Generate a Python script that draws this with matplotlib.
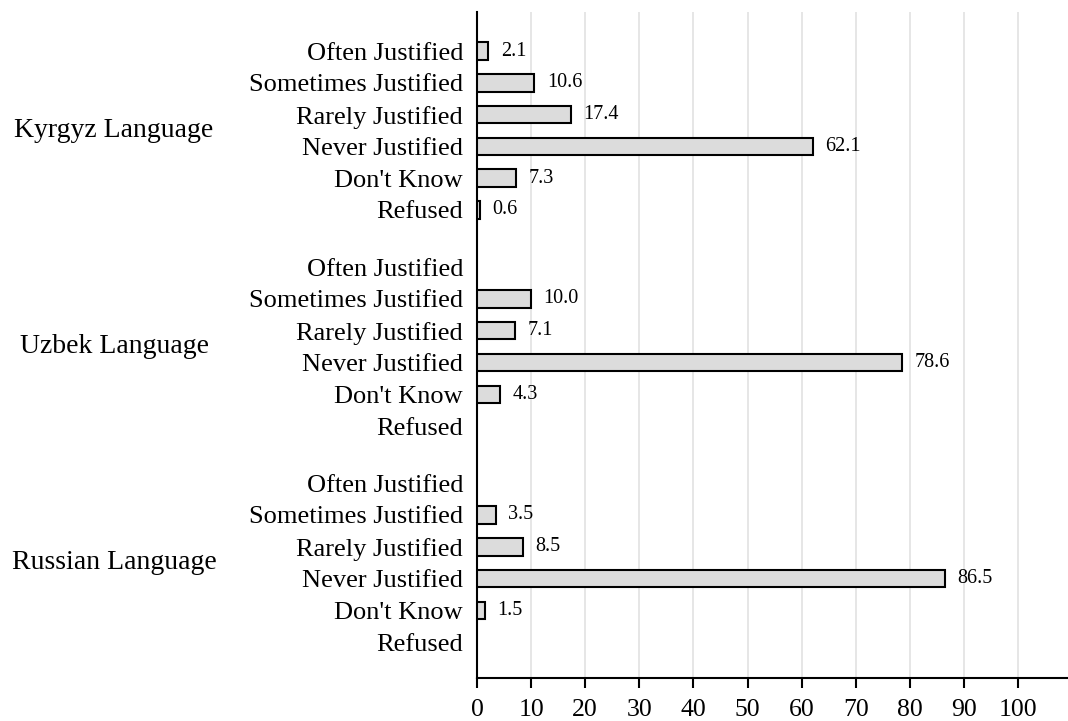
# Justification responses by survey language
# Horizontal bar chart, grouped by language

import numpy as np
import matplotlib.pyplot as plt
import matplotlib.transforms as mtransforms

plt.rcParams['font.family'] = ['Liberation Serif', 'DejaVu Serif']

# Data
languages = ["Kyrgyz Language", "Uzbek Language", "Russian Language"]
answers = ["Often Justified", "Sometimes Justified", "Rarely Justified",
           "Never Justified", "Don't Know", "Refused"]
kyrgyz = [2.1, 10.6, 17.4, 62.1, 7.3, 0.6]
uzbek = [np.nan, 10.0, 7.1, 78.6, 4.3, np.nan]
russian = [np.nan, 3.5, 8.5, 86.5, 1.5, np.nan]
x_ticks = [0, 10, 20, 30, 40, 50, 60, 70, 80, 90, 100]

groups = [kyrgyz, uzbek, russian]
gap = 1.8  # distance from "Refused" to the next "Often Justified"

fig = plt.figure(figsize=(10.68, 7.21), dpi=100)
ax = fig.add_axes([477 / 1068, 1 - 678 / 721, 1 - 477 / 1068, (678 - 12) / 721])

y_pos = []
y_labels = []
y_mid = []
start = 0
for values in groups:
    pos = start + np.arange(len(answers))
    bars = ax.barh(pos, values, height=0.55, color="#dcdcdc",
                   edgecolor="black", linewidth=1.5, zorder=3)
    labels = ["" if np.isnan(v) else f"{v:.1f}" for v in values]
    ax.bar_label(bars, labels=labels, padding=9, fontsize=14.5)
    y_pos += list(pos)
    y_labels += answers
    y_mid.append(start + 2.5)
    start = pos[-1] + gap

ax.set_yticks(y_pos)
ax.set_yticklabels(y_labels, fontsize=19)
ax.tick_params(axis='y', length=0, pad=10)
ax.set_ylim(y_pos[-1] + 1.13, -1.23)

# Language labels, centred in the left margin
trans = mtransforms.blended_transform_factory(fig.transFigure, ax.transData)
for name, ym in zip(languages, y_mid):
    ax.text(114 / 1068, ym, name, fontsize=20, ha="center", va="center",
            transform=trans, clip_on=False)

ax.set_xlim(0, (1068 - 477) / 5.41)
ax.set_xticks(x_ticks)
ax.tick_params(axis='x', labelsize=18.5, length=7, width=1.5, pad=8)
for t in x_ticks[1:]:
    ax.axvline(t, color="#e2e2e2", linewidth=1.2, zorder=0)

ax.spines['top'].set_visible(False)
ax.spines['right'].set_visible(False)
ax.spines['left'].set_linewidth(1.5)
ax.spines['bottom'].set_linewidth(1.5)

plt.savefig("out.png", dpi=100)
